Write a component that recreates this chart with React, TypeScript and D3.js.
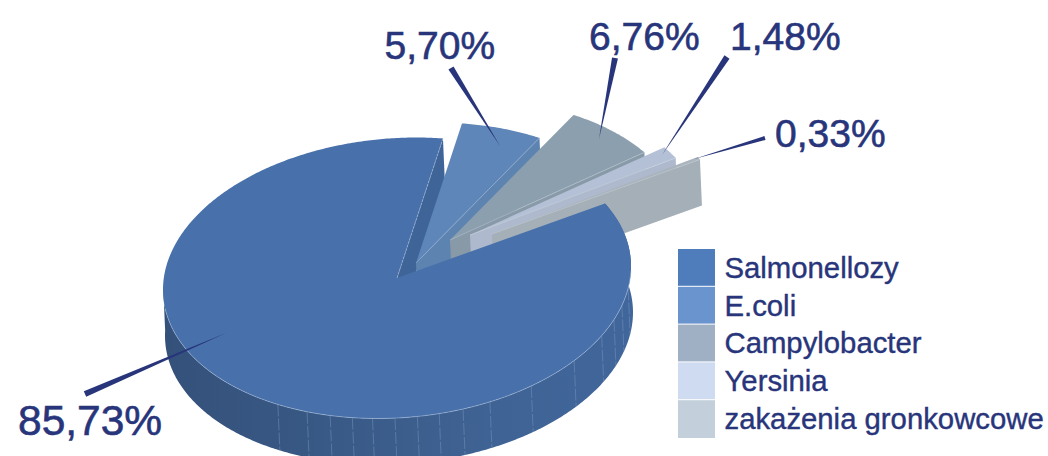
import React from "react";
import * as d3 from "d3";

// Share of each infection group, in percent.
const categories = ["Salmonellozy", "E.coli", "Campylobacter", "Yersinia", "zakażenia gronkowcowe"];
const shares = [85.73, 5.7, 6.76, 1.48, 0.33];
const shareLabels = ["85,73%", "5,70%", "6,76%", "1,48%", "0,33%"];
const legendColors = ["#4f7dbc", "#6a94cd", "#9fb0c5", "#cfdbf1", "#c3d0db"];
const faceColors = ["#4870ab", "#5f86b9", "#8c9fae", "#b4c0d5", "#a9b4bc"];
const cutWallColors = ["#3f6598", "#5d83b0", "#8899a8", "#aeb9cd", "#a4afb8"];
const faceEdgeColors = ["#a9bfdd", "#8eaad0", "#b0bfcb", "#c6d0e0", "#bcc6ce"];
// Exploded displacement of each slice from the pie centre.
const explodeX = [0, 19, 53, 73, 95];
const explodeY = [0, -15, -38, -43, -44];
// Angles (degrees clockwise from twelve o'clock) of the facet seams on the rim.
const seamAngles = [99, 106, 112, 119, 130.8, 145, 156.6, 163.6, 169.6, 175, 180.5, 186, 191, 196.6, 202.6, 210.6];

const NAVY = "#28357b";
const FONT = "'Liberation Sans', Arial, sans-serif";
const CX = 397;
const CY = 278;
const RX = 234;
const RY = 140;
const SKEW = 0.05;
const DEPTH_X = 2;
const DEPTH_Y = 46;
const START_DEG = 62.7;

type Pt = [number, number];

// Maps an angle on the tilted disc to page coordinates.
const project = (rad: number, ox = 0, oy = 0, low = false): Pt => {
  const sx = RX * Math.sin(rad);
  const sy = -RY * Math.cos(rad) - SKEW * sx;
  return [CX + sx + ox + (low ? DEPTH_X : 0), CY + sy + oy + (low ? DEPTH_Y : 0)];
};

const arcPoints = (a0: number, a1: number, ox = 0, oy = 0, low = false): Pt[] => {
  const n = Math.max(2, Math.ceil(Math.abs(a1 - a0) / 0.01));
  return d3.range(n + 1).map((i) => project(a0 + ((a1 - a0) * i) / n, ox, oy, low));
};

const poly = d3.line<Pt>().curve(d3.curveLinearClosed);
const seg = d3.line<Pt>();
const rad = (deg: number) => (deg * Math.PI) / 180;

const slices = d3
  .pie<number>()
  .sort(null)
  .startAngle(rad(START_DEG))
  .endAngle(rad(START_DEG) + 2 * Math.PI)(shares);

// Tapered pointers from each value label into its slice: wide end, then tip.
const pointerSpec: { from: Pt; to: Pt; w: number }[] = [
  { from: [85, 394], to: [226, 333], w: 6 },
  { from: [451, 68], to: [500, 146], w: 6 },
  { from: [615, 58], to: [599, 139], w: 6 },
  { from: [727, 57], to: [662, 155], w: 6 },
  { from: [765, 138], to: [694, 159], w: 4 },
];
const labelSpec = [
  { x: 18, y: 435, size: 42.5 },
  { x: 384.5, y: 59, size: 39 },
  { x: 589, y: 50, size: 39 },
  { x: 730, y: 50, size: 39 },
  { x: 775, y: 147, size: 39 },
];

const taper = ({ from, to, w }: { from: Pt; to: Pt; w: number }) => {
  const dx = to[0] - from[0];
  const dy = to[1] - from[1];
  const len = Math.hypot(dx, dy);
  const nx = (-dy / len) * (w / 2);
  const ny = (dx / len) * (w / 2);
  return poly([[from[0] + nx, from[1] + ny], [from[0] - nx, from[1] - ny], to]) ?? "";
};

const Slice = ({ i }: { i: number }) => {
  const s = slices[i];
  const ox = explodeX[i];
  const oy = explodeY[i];
  const apex: Pt = [CX + ox, CY + oy];
  const apexLow: Pt = [CX + ox + DEPTH_X, CY + oy + DEPTH_Y];
  const endTop = project(s.endAngle, ox, oy);
  const endLow = project(s.endAngle, ox, oy, true);
  const rim = arcPoints(s.startAngle, s.endAngle, ox, oy);
  return (
    <g>
      <path d={poly([apex, endTop, endLow, apexLow]) ?? ""} fill={cutWallColors[i]} />
      <path d={poly([apex, ...rim]) ?? ""} fill={faceColors[i]} />
      <path d={seg([apex, endTop]) ?? ""} fill="none" stroke={faceEdgeColors[i]} strokeWidth={0.7} />
    </g>
  );
};

export default function App() {
  const main = slices[0];
  const topRim = arcPoints(main.startAngle, main.endAngle);
  // The visible rim stops short of the back of the disc so that it leaves no fringe there.
  const wallTop = arcPoints(main.startAngle, rad(272));
  const wallLow = arcPoints(main.startAngle, rad(272), 0, 0, true);
  const apex: Pt = [CX, CY];
  const apexLow: Pt = [CX + DEPTH_X, CY + DEPTH_Y];
  const endTop = project(main.endAngle);
  const endLow = project(main.endAngle, 0, 0, true);
  const frontRim = arcPoints(rad(92), rad(262));

  return (
    <svg
      width={1048}
      height={456}
      viewBox="0 0 1048 456"
      style={{ position: "absolute", left: 0, top: 0, display: "block", background: "#fff" }}
    >
      <defs>
        <linearGradient id="rimShade" gradientUnits="userSpaceOnUse" x1={165} y1={0} x2={633} y2={0}>
          <stop offset="0" stopColor="#34517a" />
          <stop offset="0.3" stopColor="#385884" />
          <stop offset="0.7" stopColor="#3f6394" />
          <stop offset="1" stopColor="#41669b" />
        </linearGradient>
      </defs>

      {/* cut face of the large slice, seen through the gap */}
      <path d={poly([apex, endTop, endLow, apexLow]) ?? ""} fill={cutWallColors[0]} />

      {/* exploded slices, back to front */}
      {[1, 2, 3, 4].map((i) => (
        <Slice key={categories[i]} i={i} />
      ))}

      {/* rim of the large slice */}
      <path d={poly([...wallTop, ...wallLow.slice().reverse()]) ?? ""} fill="url(#rimShade)" />
      {seamAngles.map((deg) => {
        const a = rad(deg);
        return (
          <path
            key={deg}
            d={seg([project(a), project(a, 0, 0, true)]) ?? ""}
            stroke="#86a2c8"
            strokeOpacity={0.5}
            strokeWidth={0.8}
            strokeDasharray="12 2"
            fill="none"
          />
        );
      })}

      {/* top of the large slice */}
      <path d={poly([apex, ...topRim]) ?? ""} fill={faceColors[0]} />
      <path d={seg(frontRim) ?? ""} fill="none" stroke={faceEdgeColors[0]} strokeOpacity={0.8} strokeWidth={0.7} />
      <path d={seg([apex, endTop]) ?? ""} fill="none" stroke={faceEdgeColors[0]} strokeWidth={0.6} strokeDasharray="3 1" />

      {/* pointers and value labels */}
      {pointerSpec.map((p, i) => (
        <path key={shareLabels[i]} d={taper(p)} fill={NAVY} />
      ))}
      {shareLabels.map((t, i) => (
        <text
          key={t}
          x={labelSpec[i].x}
          y={labelSpec[i].y}
          fontFamily={FONT}
          fontSize={labelSpec[i].size}
          fill={NAVY}
          stroke={NAVY}
          strokeWidth={0.6}
        >
          {t}
        </text>
      ))}

      {/* legend */}
      {categories.map((c, i) => (
        <g key={c}>
          <rect x={678} y={249 + i * 37.8} width={37} height={i === 4 ? 37.8 : 36.8} fill={legendColors[i]} />
          <text x={724.5} y={278 + i * 37.7} fontFamily={FONT} fontSize={29.3} fill={NAVY} stroke={NAVY} strokeWidth={0.4}>
            {c}
          </text>
        </g>
      ))}
    </svg>
  );
}
